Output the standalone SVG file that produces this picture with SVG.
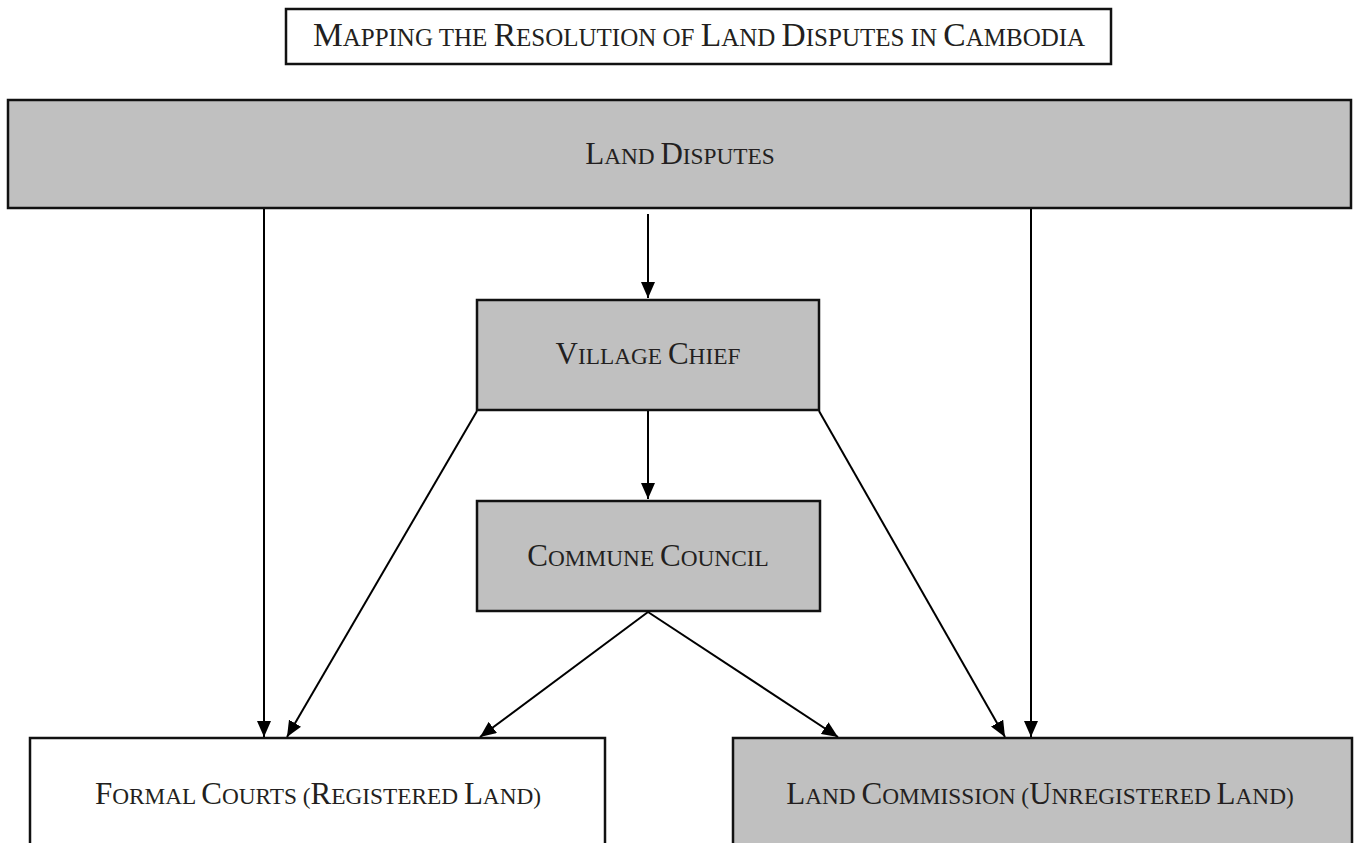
<svg xmlns="http://www.w3.org/2000/svg" width="1354" height="843" viewBox="0 0 1354 843">
<style>
.box{stroke:#111;stroke-width:2.5}
.g{fill:#c0c0c0}
.w{fill:#fff}
.t{font-family:"Liberation Serif","Times New Roman",serif;fill:#231f20;text-anchor:middle;font-size:23.3px}
.t .c{font-size:31px}
.tt{font-size:25px}
.tt .c{font-size:33.5px}
.e{stroke:#000;stroke-width:2;fill:none;marker-end:url(#ah)}
</style>
<defs>
<marker id="ah" markerUnits="userSpaceOnUse" markerWidth="17" markerHeight="14" refX="16" refY="7" orient="auto" viewBox="0 0 17 14">
<path d="M0,0 L16,7 L0,14 Z" fill="#000"/>
</marker>
</defs>
<rect width="1354" height="843" fill="#fff"/>
<g id="title">
<rect class="box w" x="286" y="9" width="825" height="55"/>
<text class="t tt" x="699" y="46"><tspan class="c">M</tspan>APPING THE <tspan class="c">R</tspan>ESOLUTION OF <tspan class="c">L</tspan>AND <tspan class="c">D</tspan>ISPUTES IN <tspan class="c">C</tspan>AMBODIA</text>
</g>
<g id="land-disputes">
<rect class="box g" x="8" y="100" width="1343" height="108"/>
<text class="t" x="680" y="164"><tspan class="c">L</tspan>AND <tspan class="c">D</tspan>ISPUTES</text>
</g>
<g id="village-chief">
<rect class="box g" x="477" y="300" width="342" height="110"/>
<text class="t" x="648" y="364"><tspan class="c">V</tspan>ILLAGE <tspan class="c">C</tspan>HIEF</text>
</g>
<g id="commune-council">
<rect class="box g" x="477" y="501" width="343" height="110"/>
<text class="t" x="648" y="566"><tspan class="c">C</tspan>OMMUNE <tspan class="c">C</tspan>OUNCIL</text>
</g>
<g id="formal-courts">
<rect class="box w" x="30" y="738" width="575" height="120"/>
<text class="t" x="318" y="804"><tspan class="c">F</tspan>ORMAL <tspan class="c">C</tspan>OURTS (<tspan class="c">R</tspan>EGISTERED <tspan class="c">L</tspan>AND)</text>
</g>
<g id="land-commission">
<rect class="box g" x="733" y="738" width="619" height="120"/>
<text class="t" x="1040" y="804"><tspan class="c">L</tspan>AND <tspan class="c">C</tspan>OMMISSION (<tspan class="c">U</tspan>NREGISTERED <tspan class="c">L</tspan>AND)</text>
</g>
<g id="connectors">
<line class="e" x1="648" y1="214" x2="648" y2="298"/>
<line class="e" x1="264" y1="209" x2="264" y2="737"/>
<line class="e" x1="1031" y1="209" x2="1031" y2="737"/>
<line class="e" x1="477" y1="411" x2="287" y2="737"/>
<line class="e" x1="819" y1="411" x2="1005" y2="737"/>
<line class="e" x1="648" y1="411" x2="648" y2="499"/>
<line class="e" x1="648" y1="612" x2="480" y2="737"/>
<line class="e" x1="648" y1="612" x2="838" y2="737"/>
</g>
</svg>
